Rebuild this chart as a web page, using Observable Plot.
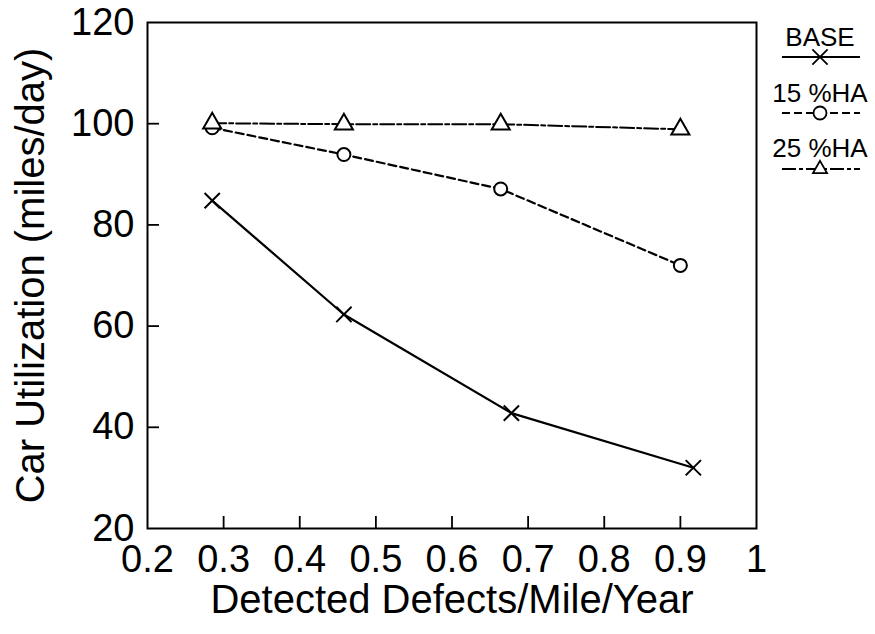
<!DOCTYPE html>
<html><head><meta charset="utf-8">
<script src="https://cdn.jsdelivr.net/npm/d3@7"></script>
<script src="https://cdn.jsdelivr.net/npm/@observablehq/plot@0.6"></script>
<style>
body{margin:0;background:#fff}
#wrap{position:relative;width:875px;height:634px}
#wrap svg{display:block}
#legend{position:absolute;left:0;top:0;pointer-events:none}
</style>
</head><body><div id="wrap"></div>
<script>
// ---- data ----
const seriesNames = ["BASE", "15 %HA", "25 %HA"];
const defectsBase = [0.285, 0.458, 0.678, 0.917];
const utilBase    = [84.8, 62.3, 42.8, 32.0];
const defectsHA   = [0.285, 0.458, 0.664, 0.900];
const util15HA    = [99.2, 93.9, 87.1, 72.0];
const util25HA    = [100.1, 99.9, 99.9, 98.9];
const xTickLabels = [0.2, 0.3, 0.4, 0.5, 0.6, 0.7, 0.8, 0.9, 1];
const xTickMarks  = [0.3, 0.4, 0.5, 0.6, 0.7, 0.8, 0.9];
const yTickLabels = [20, 40, 60, 80, 100, 120];
const yTickMarks  = [40, 60, 80, 100];
const xTitle = "Detected Defects/Mile/Year";
const yTitle = "Car Utilization (miles/day)";

const rows = (xs, ys, s) => xs.map((x, i) => ({x, y: ys[i], s}));
const base = rows(defectsBase, utilBase, seriesNames[0]);
const ha15 = rows(defectsHA, util15HA, seriesNames[1]);
const ha25 = rows(defectsHA, util25HA, seriesNames[2]);

const font = "'Liberation Sans', Arial, Helvetica, sans-serif";
const dash15 = "8,4";
const dash25 = "14,3,4,3";

const chart = Plot.plot({
  width: 875, height: 634,
  marginLeft: 147, marginRight: 119, marginTop: 22, marginBottom: 106,
  x: {domain: [0.2, 1]},
  y: {domain: [20, 120]},
  style: {fontFamily: font, color: "#000", background: "#fff"},
  marks: [
    Plot.axisX(xTickLabels, {tickSize: 0, tickPadding: 17, fontSize: 38, tickFormat: d => String(d), label: null}),
    Plot.axisX(xTickMarks, {tickSize: -12, tickFormat: () => "", strokeWidth: 1.8, label: null}),
    Plot.axisY(yTickLabels, {tickSize: 0, tickPadding: 13, fontSize: 38, label: null}),
    Plot.axisY(yTickMarks, {tickSize: -12, tickFormat: () => "", strokeWidth: 1.8, label: null}),
    Plot.frame({stroke: "#000", strokeWidth: 2}),
    Plot.line(base, {x: "x", y: "y", stroke: "#000", strokeWidth: 2.2}),
    Plot.line(ha15, {x: "x", y: "y", stroke: "#000", strokeWidth: 2.2, strokeDasharray: dash15}),
    Plot.line(ha25, {x: "x", y: "y", stroke: "#000", strokeWidth: 2, strokeDasharray: dash25}),
    Plot.dot(base, {x: "x", y: "y", symbol: "times", r: 7, stroke: "#000", strokeWidth: 2}),
    Plot.dot(ha15, {x: "x", y: "y", symbol: "circle", r: 6.5, stroke: "#000", fill: "#fff", strokeWidth: 2}),
    Plot.dot(ha25, {x: "x", y: "y", symbol: "triangle", r: 6.7, stroke: "#000", fill: "#fff", strokeWidth: 2}),
    Plot.text([yTitle], {text: d => d, frameAnchor: "left", textAnchor: "middle", rotate: -90, dx: -116, fontSize: 40, fill: "#000"}),
    Plot.text([xTitle], {text: d => d, frameAnchor: "bottom", textAnchor: "middle", dy: 84, fontSize: 40, fill: "#000"})
  ]
});
const wrap = document.getElementById("wrap");
wrap.appendChild(chart);

// ---- legend (right margin) ----
const leg = d3.select(wrap).append("svg").attr("id", "legend")
  .attr("width", 875).attr("height", 634)
  .style("font-family", font);
const legendItems = [
  {name: seriesNames[0], dash: null, sym: d3.symbolTimes, size: Math.PI * 49, fill: "none", ty: 46, ly: 57},
  {name: seriesNames[1], dash: dash15, sym: d3.symbolCircle, size: Math.PI * 6.5 * 6.5, fill: "#fff", ty: 102, ly: 113},
  {name: seriesNames[2], dash: dash25, sym: d3.symbolTriangle2, size: Math.PI * 6.7 * 6.7, fill: "#fff", ty: 157, ly: 169}
];
for (const it of legendItems) {
  leg.append("text").attr("x", 820).attr("y", it.ty).attr("text-anchor", "middle")
    .attr("font-size", 26).attr("fill", "#000").text(it.name);
  leg.append("line").attr("x1", 782).attr("x2", 860).attr("y1", it.ly).attr("y2", it.ly)
    .attr("stroke", "#000").attr("stroke-width", 1.8).attr("stroke-dasharray", it.dash);
  leg.append("path").attr("transform", `translate(820,${it.ly})`)
    .attr("d", d3.symbol(it.sym, it.size)()).attr("fill", it.fill)
    .attr("stroke", "#000").attr("stroke-width", 1.8);
}
</script>
</body></html>
